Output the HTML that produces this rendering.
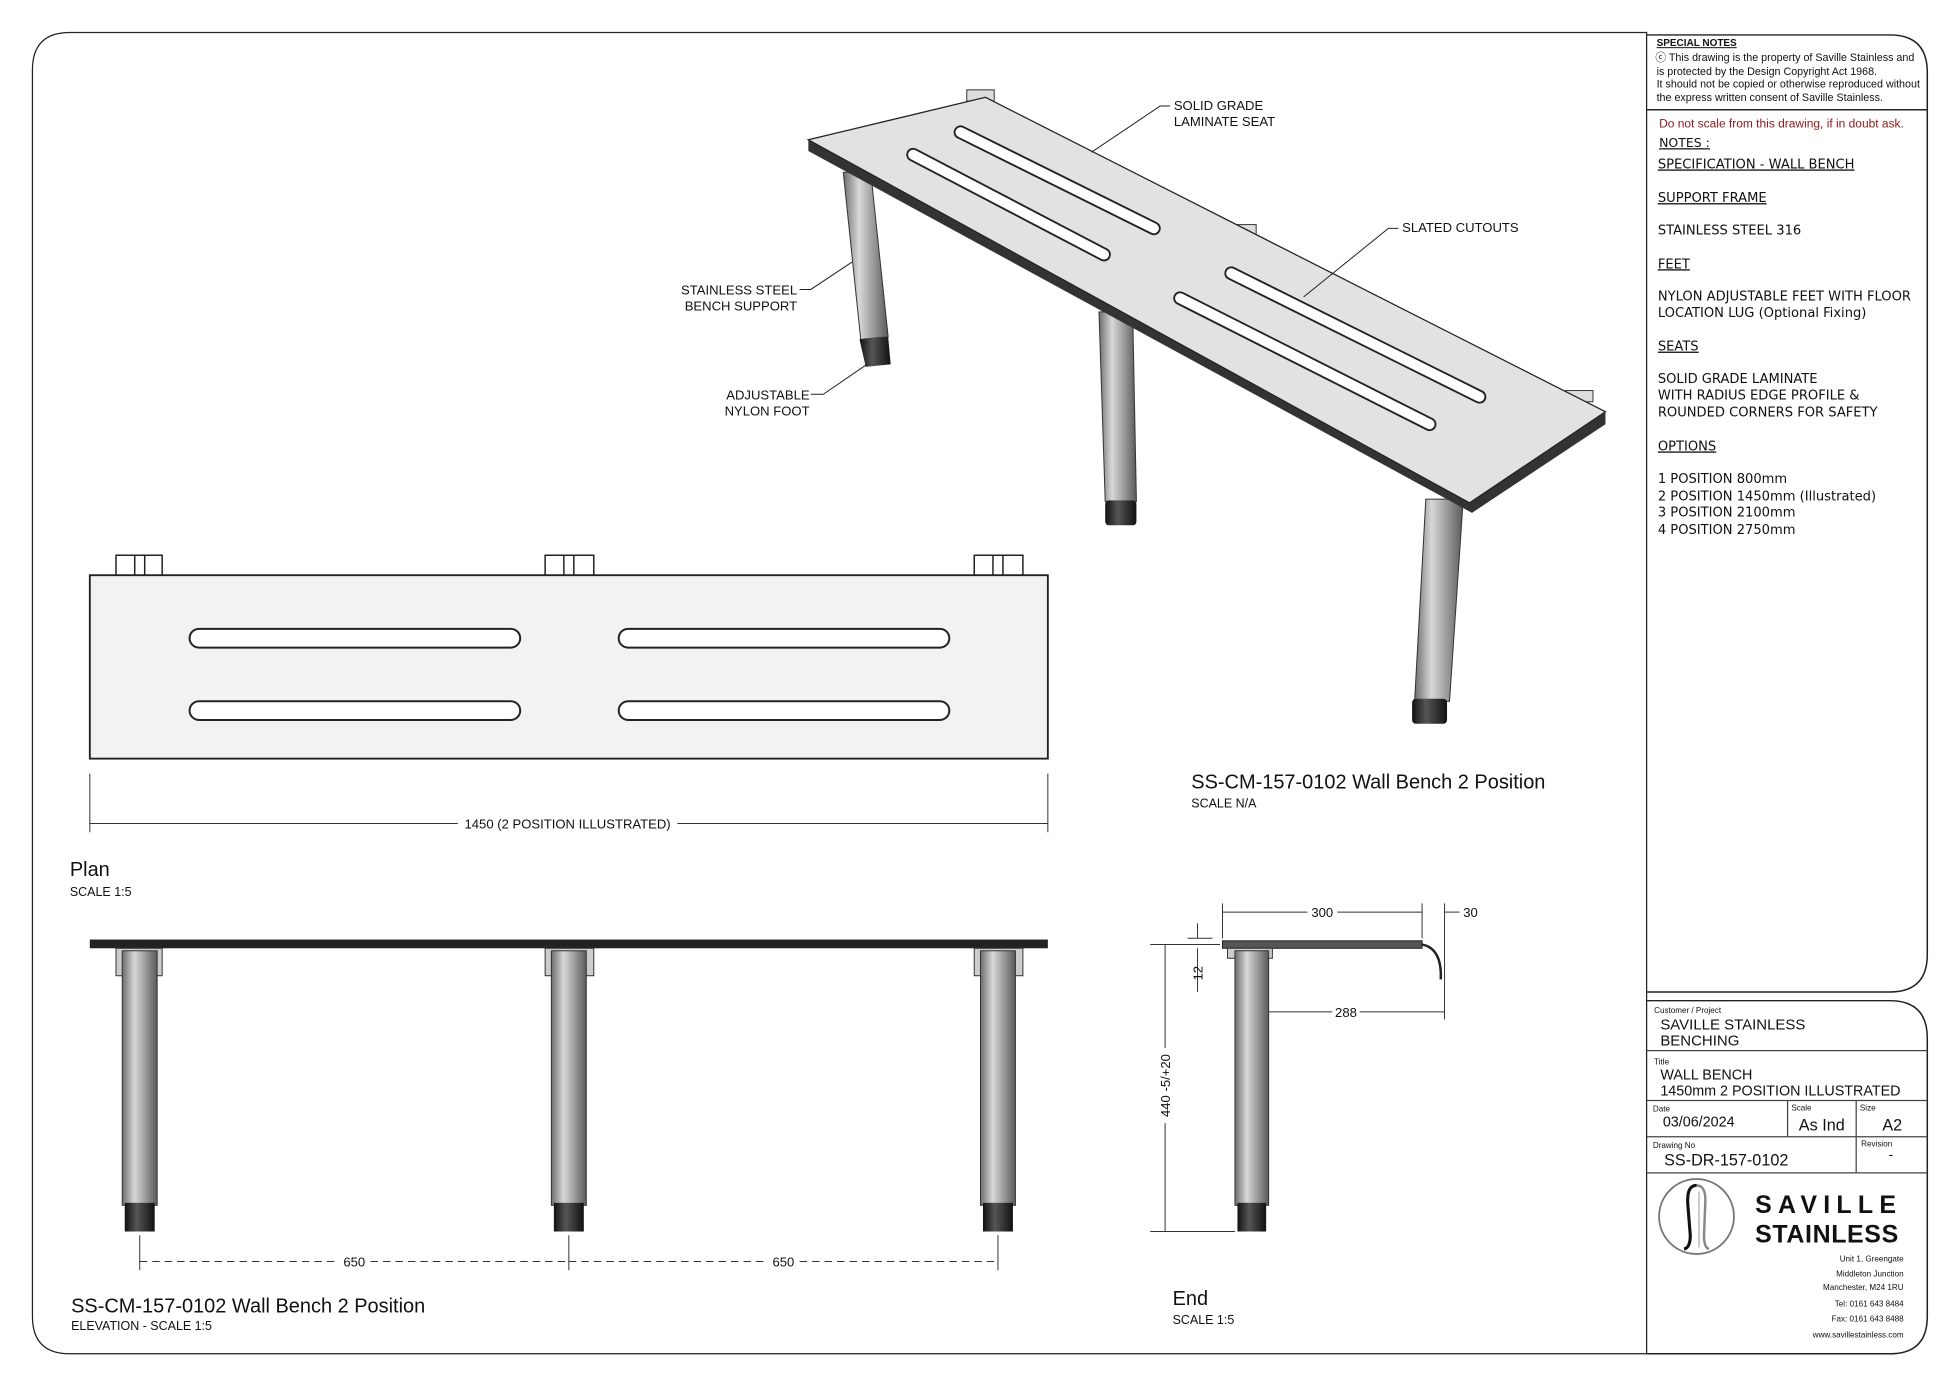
<!DOCTYPE html>
<html><head><meta charset="utf-8"><style>
html,body{margin:0;padding:0;background:#fff;}
svg{display:block;}
text{font-family:"Liberation Sans",sans-serif;fill:#111;}
</style></head><body>
<svg width="1946" height="1380" viewBox="0 0 1560 1106" preserveAspectRatio="none" xmlns="http://www.w3.org/2000/svg">
<defs>
<linearGradient id="leg" x1="0" x2="1" y1="0" y2="0">
<stop offset="0" stop-color="#6d6d6d"/><stop offset="0.35" stop-color="#d8d8d8"/><stop offset="0.6" stop-color="#a8a8a8"/><stop offset="1" stop-color="#5a5a5a"/>
</linearGradient>
<linearGradient id="foot" x1="0" x2="1"><stop offset="0" stop-color="#111"/><stop offset="0.4" stop-color="#555"/><stop offset="1" stop-color="#111"/></linearGradient>
</defs>
<rect width="1560" height="1106" fill="#fff"/>
<!-- outer border -->
<path d="M56 26 H1320 V1085 H56 Q26 1085 26 1055 V56 Q26 26 56 26 Z" fill="none" stroke="#222" stroke-width="1"/>
<!-- notes panel -->
<path d="M1320 28 H1515 Q1545 28 1545 58 V765 Q1545 795 1515 795 H1320" fill="none" stroke="#222" stroke-width="1.2"/>
<line x1="1320" y1="88" x2="1545" y2="88" stroke="#222" stroke-width="1.2"/>
<!-- title block -->
<path d="M1320 802 H1515 Q1545 802 1545 832 V1055 Q1545 1085 1515 1085 H1320" fill="none" stroke="#222" stroke-width="1.2"/>
<g stroke="#444" stroke-width="1">
<line x1="1320" y1="842" x2="1545" y2="842"/>
<line x1="1320" y1="882" x2="1545" y2="882"/>
<line x1="1320" y1="911" x2="1545" y2="911"/>
<line x1="1320" y1="940" x2="1545" y2="940"/>
<line x1="1433" y1="882" x2="1433" y2="911"/>
<line x1="1488" y1="882" x2="1488" y2="940"/>
</g>
<!-- notes text -->
<text x="1328" y="37" font-size="8" font-weight="bold" text-decoration="underline">SPECIAL NOTES</text>
<text x="1327" y="49" font-size="8.6">ⓒ This drawing is the property of  Saville Stainless and</text>
<text x="1328" y="60" font-size="8.6">is protected by the Design Copyright Act 1968.</text>
<text x="1328" y="70" font-size="8.6">It should not be copied or otherwise reproduced without</text>
<text x="1328" y="81" font-size="8.6">the express written consent of Saville Stainless.</text>
<text x="1330" y="102" font-size="9.6" style="fill:#8b1a1a">Do not scale from this drawing, if in doubt ask.</text>
<g font-size="10.8" font-family="DejaVu Sans, sans-serif">
<text x="1330" y="118" text-decoration="underline" style="font-family:'DejaVu Sans',sans-serif;font-size:10px">NOTES :</text>
<text x="1329" y="135" text-decoration="underline" style="font-family:'DejaVu Sans',sans-serif;font-size:10.5px">SPECIFICATION - WALL BENCH</text>
<text x="1329" y="162" text-decoration="underline" style="font-family:'DejaVu Sans',sans-serif;font-size:10.5px">SUPPORT FRAME</text>
<text x="1329" y="188" style="font-family:'DejaVu Sans',sans-serif;font-size:10.5px">STAINLESS STEEL 316</text>
<text x="1329" y="215" text-decoration="underline" style="font-family:'DejaVu Sans',sans-serif;font-size:10.5px">FEET</text>
<text x="1329" y="241" style="font-family:'DejaVu Sans',sans-serif;font-size:10.5px">NYLON ADJUSTABLE FEET WITH FLOOR</text>
<text x="1329" y="254" style="font-family:'DejaVu Sans',sans-serif;font-size:10.5px">LOCATION LUG (Optional Fixing)</text>
<text x="1329" y="281" text-decoration="underline" style="font-family:'DejaVu Sans',sans-serif;font-size:10.5px">SEATS </text>
<text x="1329" y="307" style="font-family:'DejaVu Sans',sans-serif;font-size:10.5px">SOLID GRADE LAMINATE</text>
<text x="1329" y="320" style="font-family:'DejaVu Sans',sans-serif;font-size:10.5px">WITH RADIUS EDGE PROFILE &amp;</text>
<text x="1329" y="334" style="font-family:'DejaVu Sans',sans-serif;font-size:10.5px">ROUNDED CORNERS FOR SAFETY</text>
<text x="1329" y="361" text-decoration="underline" style="font-family:'DejaVu Sans',sans-serif;font-size:10.5px">OPTIONS</text>
<text x="1329" y="387" style="font-family:'DejaVu Sans',sans-serif;font-size:10.5px">1 POSITION 800mm</text>
<text x="1329" y="401" style="font-family:'DejaVu Sans',sans-serif;font-size:10.5px">2 POSITION 1450mm (Illustrated)</text>
<text x="1329" y="414" style="font-family:'DejaVu Sans',sans-serif;font-size:10.5px">3 POSITION 2100mm</text>
<text x="1329" y="428" style="font-family:'DejaVu Sans',sans-serif;font-size:10.5px">4 POSITION 2750mm</text>
</g>
<!-- title block text -->
<text x="1326" y="812" font-size="6.5">Customer / Project</text>
<text x="1331" y="825" font-size="12">SAVILLE STAINLESS</text>
<text x="1331" y="838" font-size="12">BENCHING</text>
<text x="1326" y="853" font-size="6.5">Title</text>
<text x="1331" y="865" font-size="11.5">WALL BENCH</text>
<text x="1331" y="878" font-size="11.5">1450mm 2 POSITION ILLUSTRATED</text>
<text x="1325" y="891" font-size="6.5">Date</text>
<text x="1333" y="903" font-size="11.5">03/06/2024</text>
<text x="1436" y="890" font-size="6.5">Scale</text>
<text x="1442" y="906" font-size="13">As Ind</text>
<text x="1491" y="890" font-size="6.5">Size</text>
<text x="1509" y="906" font-size="13">A2</text>
<text x="1325" y="920" font-size="6.5">Drawing No</text>
<text x="1334" y="934" font-size="13">SS-DR-157-0102</text>
<text x="1492" y="919" font-size="6.5">Revision</text>
<text x="1514" y="929" font-size="11">-</text>
<circle cx="1360" cy="975" r="30" fill="none" stroke="#777" stroke-width="1.5"/>
<path d="M1350 1001 Q1355 1000 1355 990 L1353 965 Q1352 950 1360 950" fill="none" stroke="#111" stroke-width="2.5"/>
<path d="M1360 950 Q1368 950 1367 965 L1366 990 Q1366 1000 1370 1001" fill="none" stroke="#888" stroke-width="2"/>
<line x1="1362" y1="955" x2="1362" y2="1000" stroke="#aaa" stroke-width="1"/>
<text x="1407" y="972" font-size="20" font-weight="bold" letter-spacing="5">SAVILLE</text>
<text x="1407" y="996" font-size="20" font-weight="bold" letter-spacing="0.5">STAINLESS</text>
<g font-size="6.5" text-anchor="end">
<text x="1526" y="1011">Unit 1, Greengate</text>
<text x="1526" y="1023">Middleton Junction</text>
<text x="1526" y="1034">Manchester, M24 1RU</text>
<text x="1526" y="1047">Tel:  0161 643 8484</text>
<text x="1526" y="1059">Fax:  0161 643 8488</text>
<text x="1526" y="1072">www.savillestainless.com</text>
</g>

<!-- ISO VIEW -->
<g>
<!-- legs -->
<polygon points="676,138 698,138 712,270 690,272" fill="url(#leg)" stroke="#333" stroke-width="0.8"/>
<polygon points="689,272 712,270 714,292 694,294" fill="url(#foot)"/>
<polygon points="881,250 908,250 911,402 886,402" fill="url(#leg)" stroke="#333" stroke-width="0.8"/>
<rect x="886" y="401" width="25" height="20" rx="3" fill="url(#foot)"/>
<polygon points="1143,400 1173,400 1162,562 1134,562" fill="url(#leg)" stroke="#333" stroke-width="0.8"/>
<rect x="1132" y="560" width="28" height="20" rx="3" fill="url(#foot)"/>
<!-- brackets -->
<rect x="775" y="72" width="22" height="9" fill="#ddd" stroke="#333" stroke-width="0.8"/>
<rect x="985" y="180" width="22" height="9" fill="#ddd" stroke="#333" stroke-width="0.8"/>
<rect x="1255" y="313" width="22" height="9" fill="#ddd" stroke="#333" stroke-width="0.8"/>
<!-- seat -->
<polygon points="648,112 790,78 1287,330 1287,340 1180,411 648,121" fill="#333"/>
<polygon points="648,112 790,78 1287,330 1178,403" fill="#e2e2e2" stroke="#222" stroke-width="1"/>
<g stroke="#222" stroke-width="11" stroke-linecap="round" fill="none">
<line x1="770" y1="106" x2="925" y2="183"/>
<line x1="732" y1="124" x2="885" y2="204"/>
<line x1="987" y1="219" x2="1186" y2="318"/>
<line x1="946" y1="239" x2="1146" y2="340"/>
</g>
<g stroke="#fff" stroke-width="8" stroke-linecap="round" fill="none">
<line x1="770" y1="106" x2="925" y2="183"/>
<line x1="732" y1="124" x2="885" y2="204"/>
<line x1="987" y1="219" x2="1186" y2="318"/>
<line x1="946" y1="239" x2="1146" y2="340"/>
</g>
<!-- leaders -->
<g stroke="#222" stroke-width="0.8" fill="none">
<polyline points="938,85 930,85 875,122"/>
<polyline points="1121,183 1113,183 1045,238"/>
<polyline points="641,232 650,232 683,210"/>
<polyline points="650,316 660,316 695,292"/>
</g>
<g font-size="10.5">
<text x="941" y="88">SOLID GRADE</text>
<text x="941" y="101">LAMINATE SEAT</text>
<text x="1124" y="186">SLATED CUTOUTS</text>
<text x="639" y="236" text-anchor="end">STAINLESS STEEL</text>
<text x="639" y="249" text-anchor="end">BENCH SUPPORT</text>
<text x="649" y="320" text-anchor="end">ADJUSTABLE</text>
<text x="649" y="333" text-anchor="end">NYLON FOOT</text>
</g>
<text x="955" y="632" font-size="16">SS-CM-157-0102 Wall Bench 2 Position</text>
<text x="955" y="647" font-size="10">SCALE N/A</text>
</g>

<!-- PLAN -->
<g stroke="#222" stroke-width="1.2">
<rect x="93" y="445" width="37" height="16" fill="#fff"/>
<rect x="437" y="445" width="39" height="16" fill="#fff"/>
<rect x="781" y="445" width="39" height="16" fill="#fff"/>
<line x1="108" y1="445" x2="108" y2="461"/><line x1="116" y1="445" x2="116" y2="461"/>
<line x1="452" y1="445" x2="452" y2="461"/><line x1="460" y1="445" x2="460" y2="461"/>
<line x1="796" y1="445" x2="796" y2="461"/><line x1="804" y1="445" x2="804" y2="461"/>
<rect x="72" y="461" width="768" height="147" fill="#f2f2f2" stroke-width="1.5"/>
<rect x="152" y="504" width="265" height="15" rx="7.5" fill="#fff" stroke-width="1.6"/>
<rect x="496" y="504" width="265" height="15" rx="7.5" fill="#fff" stroke-width="1.6"/>
<rect x="152" y="562" width="265" height="15" rx="7.5" fill="#fff" stroke-width="1.6"/>
<rect x="496" y="562" width="265" height="15" rx="7.5" fill="#fff" stroke-width="1.6"/>
</g>
<g stroke="#333" stroke-width="0.8">
<line x1="72" y1="620" x2="72" y2="667"/><line x1="840" y1="620" x2="840" y2="667"/>
<line x1="72" y1="660" x2="367" y2="660"/><line x1="543" y1="660" x2="840" y2="660"/>
</g>
<text x="455" y="664" font-size="10.5" text-anchor="middle">1450 (2 POSITION ILLUSTRATED)</text>
<text x="56" y="702" font-size="16">Plan</text>
<text x="56" y="718" font-size="10">SCALE 1:5</text>

<!-- ELEVATION -->
<g>
<rect x="72" y="753" width="768" height="7" fill="#222"/>
<g fill="#ccc" stroke="#333" stroke-width="0.8">
<rect x="93" y="760" width="37" height="22"/><rect x="437" y="760" width="39" height="22"/><rect x="781" y="760" width="39" height="22"/>
</g>
<rect x="98" y="762" width="28" height="204" fill="url(#leg)" stroke="#333" stroke-width="0.8"/>
<rect x="442" y="762" width="28" height="204" fill="url(#leg)" stroke="#333" stroke-width="0.8"/>
<rect x="786" y="762" width="28" height="204" fill="url(#leg)" stroke="#333" stroke-width="0.8"/>
<rect x="100" y="964" width="24" height="23" fill="url(#foot)"/>
<rect x="444" y="964" width="24" height="23" fill="url(#foot)"/>
<rect x="788" y="964" width="24" height="23" fill="url(#foot)"/>
<g stroke="#333" stroke-width="0.8">
<line x1="112" y1="990" x2="112" y2="1018"/><line x1="456" y1="990" x2="456" y2="1018"/><line x1="800" y1="990" x2="800" y2="1018"/>
<line x1="112" y1="1011" x2="272" y2="1011" stroke-dasharray="6,4"/><line x1="297" y1="1011" x2="456" y2="1011" stroke-dasharray="6,4"/>
<line x1="456" y1="1011" x2="616" y2="1011" stroke-dasharray="6,4"/><line x1="641" y1="1011" x2="800" y2="1011" stroke-dasharray="6,4"/>
</g>
<text x="284" y="1015" font-size="10.5" text-anchor="middle">650</text>
<text x="628" y="1015" font-size="10.5" text-anchor="middle">650</text>
<text x="57" y="1052" font-size="16">SS-CM-157-0102 Wall Bench 2 Position</text>
<text x="57" y="1066" font-size="10">ELEVATION - SCALE 1:5</text>
</g>

<!-- END VIEW -->
<g>
<rect x="980" y="754" width="160" height="6" fill="#555" stroke="#222" stroke-width="0.8"/>
<path d="M1140 757 Q1156 760 1155 785" fill="none" stroke="#222" stroke-width="2"/>
<rect x="984" y="760" width="36" height="8" fill="#ccc" stroke="#333" stroke-width="0.8"/>
<rect x="990" y="762" width="27" height="204" fill="url(#leg)" stroke="#333" stroke-width="0.8"/>
<rect x="992" y="964" width="23" height="23" fill="url(#foot)"/>
<g stroke="#333" stroke-width="0.8">
<line x1="980" y1="724" x2="980" y2="752"/><line x1="1140" y1="724" x2="1140" y2="752"/>
<line x1="980" y1="731" x2="1048" y2="731"/><line x1="1072" y1="731" x2="1140" y2="731"/>
<line x1="1158" y1="724" x2="1158" y2="817"/><line x1="1158" y1="731" x2="1170" y2="731"/>
<line x1="1017" y1="811" x2="1068" y2="811"/><line x1="1090" y1="811" x2="1158" y2="811"/>
<line x1="922" y1="757" x2="978" y2="757"/><line x1="922" y1="987" x2="990" y2="987"/>
<line x1="952" y1="752" x2="972" y2="752"/>
<line x1="934" y1="757" x2="934" y2="840"/><line x1="934" y1="900" x2="934" y2="987"/>
<line x1="960" y1="740" x2="960" y2="752"/><line x1="960" y1="760" x2="960" y2="795"/>
</g>
<text x="1060" y="735" font-size="10.5" text-anchor="middle">300</text>
<text x="1173" y="735" font-size="10.5">30</text>
<text x="1079" y="815" font-size="10.5" text-anchor="middle">288</text>
<text transform="translate(938 870) rotate(-90)" font-size="10.5" text-anchor="middle">440 -5/+20</text>
<text transform="translate(964 780) rotate(-90)" font-size="10.5" text-anchor="middle">12</text>
<text x="940" y="1046" font-size="16">End</text>
<text x="940" y="1061" font-size="10">SCALE 1:5</text>
</g>
</svg>
</body></html>
